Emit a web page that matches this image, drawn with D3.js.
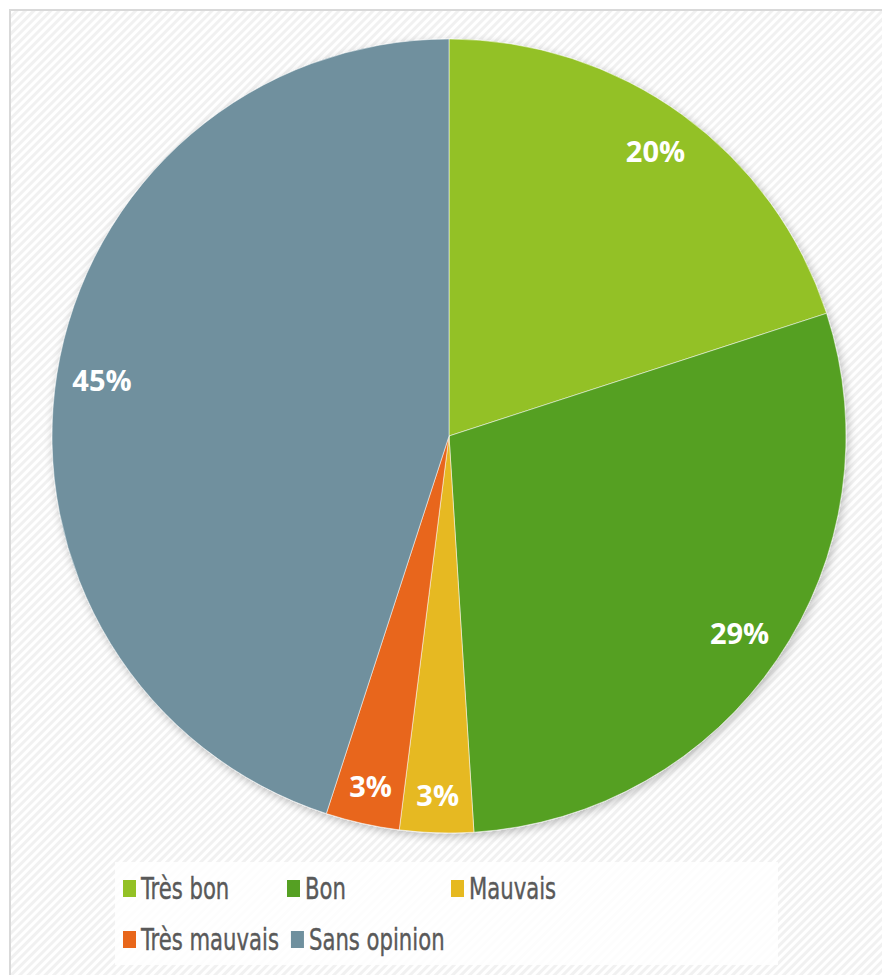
<!DOCTYPE html>
<html>
<head>
<meta charset="utf-8">
<script src="https://cdn.jsdelivr.net/npm/d3@7"></script>
<style>
  html, body { margin: 0; padding: 0; background: #fff; }
  svg { display: block; }
</style>
</head>
<body>
<svg id="chart" width="882" height="975"></svg>
<script>
// données
const categories = ["Très bon", "Bon", "Mauvais", "Très mauvais", "Sans opinion"];
const values = [20, 29, 3, 3, 45];
const colors = ["#93c125", "#55a023", "#e6b920", "#e8661a", "#6f909e"];

const width = 882, height = 975;
const cx = 449, cy = 436, radius = 397;

const svg = d3.select("#chart");
const defs = svg.append("defs");

// fond hachuré
const pat = defs.append("pattern")
    .attr("id", "hatch")
    .attr("patternUnits", "userSpaceOnUse")
    .attr("width", 6).attr("height", 6)
    .attr("patternTransform", "rotate(-45)");
pat.append("rect").attr("width", 6).attr("height", 6).attr("fill", "#ffffff");
pat.append("rect").attr("width", 6).attr("height", 3).attr("fill", "#f1f1f1");

const shadow = defs.append("filter").attr("id", "shadow")
    .attr("x", "-10%").attr("y", "-10%").attr("width", "120%").attr("height", "120%");
shadow.append("feGaussianBlur").attr("in", "SourceAlpha").attr("stdDeviation", 5);
shadow.append("feOffset").attr("dx", 2).attr("dy", 3).attr("result", "b");
shadow.append("feComponentTransfer").append("feFuncA").attr("type", "linear").attr("slope", 0.25);
const merge = shadow.append("feMerge");
merge.append("feMergeNode");
merge.append("feMergeNode").attr("in", "SourceGraphic");

svg.append("rect")
    .attr("x", 10).attr("y", 10)
    .attr("width", width).attr("height", height)
    .attr("fill", "url(#hatch)")
    .attr("stroke", "#d9d9d9").attr("stroke-width", 2);

const data = categories.map((c, i) => ({ name: c, value: values[i], color: colors[i] }));

const pie = d3.pie().sort(null).value(d => d.value);
const arc = d3.arc().innerRadius(0).outerRadius(radius);
const arcs = pie(data);

const g = svg.append("g").attr("transform", `translate(${cx},${cy})`);

g.append("g").attr("filter", "url(#shadow)")
  .selectAll("path")
  .data(arcs)
  .enter()
  .append("path")
    .attr("d", arc)
    .attr("fill", d => d.data.color)
    .attr("stroke", "#ffffff")
    .attr("stroke-opacity", 0.5)
    .attr("stroke-width", 1);

// étiquettes
g.selectAll(".lbl")
  .data(arcs)
  .enter()
  .append("text")
    .attr("class", "lbl")
    .attr("transform", d => {
        const r = d.data.value < 5 ? radius * 0.905 : radius * 0.885;
        const [x, y] = d3.arc().innerRadius(r).outerRadius(r).centroid(d);
        return `translate(${x},${y})`;
    })
    .attr("text-anchor", "middle")
    .attr("dy", "0.36em")
    .attr("fill", "#ffffff")
    .attr("font-family", "'Open Sans', sans-serif")
    .attr("font-weight", "bold")
    .attr("font-size", 29)
    .text(d => d.data.value + "%");

// légende
const lg = svg.append("g");
lg.append("rect")
    .attr("x", 115).attr("y", 862)
    .attr("width", 663).attr("height", 103)
    .attr("fill", "#ffffff").attr("fill-opacity", 0.85);

const rows = [[0, 1, 2], [3, 4]];
const baselines = [899, 950];
const squeeze = 0.76;
rows.forEach((row, ri) => {
    let x = 123;
    row.forEach(i => {
        const it = lg.append("g");
        it.append("rect")
            .attr("x", x).attr("y", baselines[ri] - 19)
            .attr("width", 13).attr("height", 17)
            .attr("fill", colors[i]);
        const t = it.append("text")
            .attr("transform", `translate(${x + 18},${baselines[ri]}) scale(${squeeze},1)`)
            .attr("fill", "#595959")
            .attr("font-family", "'DejaVu Sans Condensed', 'Liberation Sans Narrow', sans-serif")
            .attr("font-size", 31)
            .attr("stroke", "#595959")
            .attr("stroke-width", 0.4)
            .text(categories[i]);
        const w = t.node().getComputedTextLength() * squeeze;
        x = Math.max(x + 164, x + 18 + w + 12);
    });
});
</script>
</body>
</html>
